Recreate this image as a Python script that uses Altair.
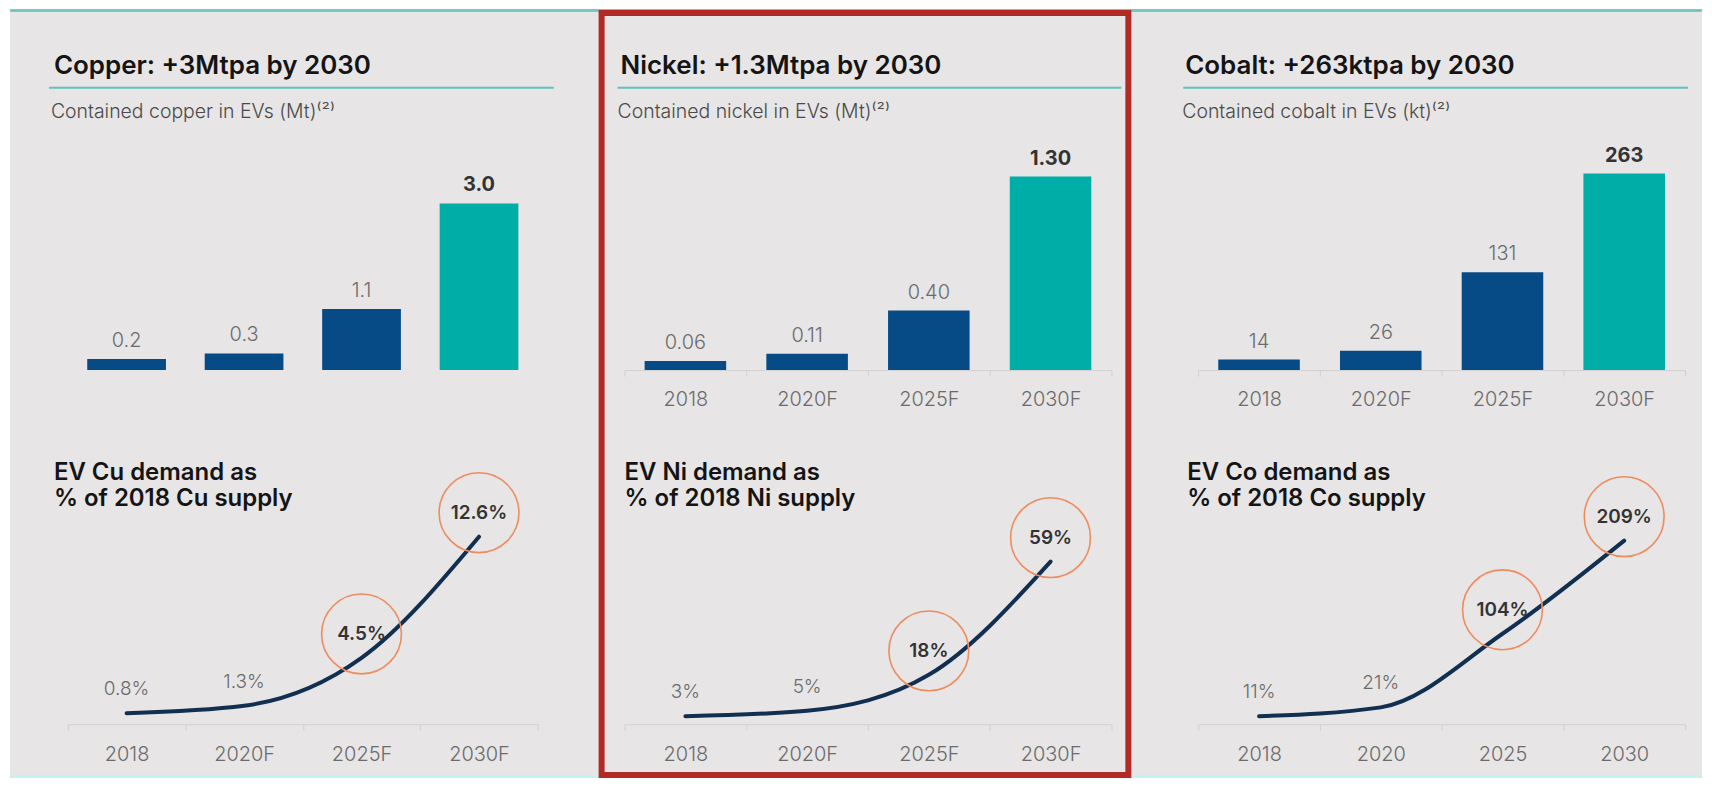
import altair as alt
import pandas as pd

FONT = "Inter"
BLUE = "#064b86"
TEAL = "#00aea8"
NAVY = "#112f50"
ORANGE = "#ee8c5e"
GRAY_TXT = "#6b6b6b"
DARK_TXT = "#333333"
BG = "#e7e5e5"
RED = "#b22a26"
UL = "#62c0bf"
AX = "#d2d0d0"

# ---------------- data ----------------
years = ["2018", "2020F", "2025F", "2030F"]
years_co_line = ["2018", "2020", "2025", "2030"]

cu_bar = [0.2, 0.3, 1.1, 3.0]
cu_bar_lbl = ["0.2", "0.3", "1.1", "3.0"]
ni_bar = [0.06, 0.11, 0.40, 1.30]
ni_bar_lbl = ["0.06", "0.11", "0.40", "1.30"]
co_bar = [14, 26, 131, 263]
co_bar_lbl = ["14", "26", "131", "263"]

cu_pct = [0.8, 1.3, 4.5, 12.6]
cu_pct_lbl = ["0.8%", "1.3%", "4.5%", "12.6%"]
ni_pct = [3, 5, 18, 59]
ni_pct_lbl = ["3%", "5%", "18%", "59%"]
co_pct = [11, 21, 104, 209]
co_pct_lbl = ["11%", "21%", "104%", "209%"]

titles = ["Copper: +3Mtpa by 2030", "Nickel: +1.3Mtpa by 2030", "Cobalt: +263ktpa by 2030"]
subtitles = ["Contained copper in EVs (Mt)\u207d\u00b2\u207e",
             "Contained nickel in EVs (Mt)\u207d\u00b2\u207e",
             "Contained cobalt in EVs (kt)\u207d\u00b2\u207e"]
line_titles = [["EV Cu demand as", "% of 2018 Cu supply"],
               ["EV Ni demand as", "% of 2018 Ni supply"],
               ["EV Co demand as", "% of 2018 Co supply"]]

# ---------------- layout ----------------
BAR_H = 200
LINE_H = 200
WIDTHS = [471, 488, 488]


def axis_cfg():
    return alt.Axis(title=None, labelFont=FONT, labelFontSize=20, labelColor=GRAY_TXT,
                    labelFontWeight=300, labelAngle=0, labelPadding=14, tickBand="extent",
                    tickSize=6, tickColor=AX, domainColor=AX, domainWidth=1, grid=False)


def one(t):
    return alt.Chart(pd.DataFrame({"t": [t]}))


def panel(cats_bar, bar_vals, bar_lbls, bar_max, cats_line, line_vals, line_lbls, line_dom,
          width, title, subtitle, ltitle, title_dx, ul, ltitle_dx, pre=None, post=None):
    emph_b = ["hi" if i == len(cats_bar) - 1 else "base" for i in range(len(cats_bar))]
    bdf = pd.DataFrame({"cat": cats_bar, "v": bar_vals, "lbl": bar_lbls, "hi": emph_b})
    xb = alt.X("cat:N", sort=cats_bar, scale=alt.Scale(type="band", paddingInner=0, paddingOuter=0),
               axis=axis_cfg())
    yb = alt.Y("v:Q", scale=alt.Scale(domain=[0, bar_max], nice=False, zero=True), axis=None)
    base = alt.Chart(bdf).encode(x=xb, y=yb)
    bars = base.mark_bar(width={"band": 0.67}).encode(
        color=alt.Color("hi:N", scale=alt.Scale(domain=["base", "hi"], range=[BLUE, TEAL]), legend=None))
    blbl = base.transform_filter(alt.datum.hi == "base").mark_text(
        font=FONT, fontSize=20, fontWeight=300, color=GRAY_TXT, baseline="alphabetic", dy=-12
    ).encode(text="lbl:N")
    blbl2 = base.transform_filter(alt.datum.hi == "hi").mark_text(
        font=FONT, fontSize=20, fontWeight=700, color=DARK_TXT, baseline="alphabetic", dy=-12
    ).encode(text="lbl:N")

    t1 = one(title).mark_text(font=FONT, fontSize=26, fontWeight=600, color="#141414",
                              align="left", baseline="alphabetic").encode(
        text="t:N", x=alt.value(title_dx), y=alt.value(-97))
    u1 = one(title).mark_rule(color=UL, strokeWidth=2).encode(
        x=alt.value(ul[0]), x2=alt.value(ul[1]), y=alt.value(-83))
    s1 = one(subtitle).mark_text(font=FONT, fontSize=19.5, fontWeight=300, color="#4a4a4a",
                                 align="left", baseline="alphabetic").encode(
        text="t:N", x=alt.value(title_dx - 3), y=alt.value(-53))

    layers = []
    if pre is not None:
        layers += pre
    layers += [bars, blbl, blbl2, t1, u1, s1]
    if post is not None:
        layers += post
    top = alt.layer(*layers).properties(width=width, height=BAR_H)

    emph_l = ["hi" if i >= len(cats_line) - 2 else "base" for i in range(len(cats_line))]
    ldf = pd.DataFrame({"cat": cats_line, "v": line_vals, "lbl": line_lbls, "hi": emph_l})
    xl = alt.X("cat:N", sort=cats_line, scale=alt.Scale(type="band", paddingInner=0, paddingOuter=0),
               axis=axis_cfg())
    yl = alt.Y("v:Q", scale=alt.Scale(domain=line_dom, nice=False, zero=False), axis=None)
    lbase = alt.Chart(ldf).encode(x=xl, y=yl)
    line = lbase.mark_line(interpolate="monotone", strokeWidth=4, color=NAVY, strokeCap="round")
    llbl = lbase.transform_filter(alt.datum.hi == "base").mark_text(
        font=FONT, fontSize=19, fontWeight=300, color=GRAY_TXT, baseline="middle", dy=-24
    ).encode(text="lbl:N")
    llbl2 = lbase.transform_filter(alt.datum.hi == "hi").mark_text(
        font=FONT, fontSize=19, fontWeight=600, color=DARK_TXT, baseline="middle", dy=-24
    ).encode(text="lbl:N")
    circ = lbase.transform_filter(alt.datum.hi == "hi").mark_point(
        shape="circle", size=6400, filled=False, stroke=ORANGE, strokeWidth=1.6, yOffset=-24, opacity=1)
    lt1 = one(ltitle[0]).mark_text(font=FONT, fontSize=24, fontWeight=600, color="#141414",
                                   align="left", baseline="alphabetic").encode(
        text="t:N", x=alt.value(ltitle_dx), y=alt.value(-45))
    lt2 = one(ltitle[1]).mark_text(font=FONT, fontSize=24, fontWeight=600, color="#141414",
                                   align="left", baseline="alphabetic").encode(
        text="t:N", x=alt.value(ltitle_dx), y=alt.value(-19))
    bottom = alt.layer(line, circ, llbl, llbl2, lt1, lt2).properties(width=width, height=LINE_H)

    return top, bottom


# decorations (page frame), relative to the copper bar view origin (66,170)
bg = one("bg").mark_rect(color=BG).encode(
    x=alt.value(-58), x2=alt.value(1638), y=alt.value(-162), y2=alt.value(609))
topline = one("tl").mark_rule(color="#74c8c5", strokeWidth=3).encode(
    x=alt.value(-58), x2=alt.value(1638), y=alt.value(-160.5))
botline = one("bl").mark_rule(color="#c6f1f1", strokeWidth=3).encode(
    x=alt.value(-58), x2=alt.value(1638), y=alt.value(607.5))
# red highlight box, relative to the nickel bar view origin (624,170)
redbox = one("rb").mark_rect(fillOpacity=0, stroke=RED, strokeWidth=6).encode(
    x=alt.value(-23), x2=alt.value(505), y=alt.value(-158), y2=alt.value(606))

cu_top, cu_bot = panel(years, cu_bar, cu_bar_lbl, 3.593, years, cu_pct, cu_pct_lbl, [0.067, 13.4],
                       WIDTHS[0], titles[0], subtitles[0], line_titles[0], -14, (-19, 487), -14,
                       pre=[bg, topline, botline])
ni_top, ni_bot = panel(years, ni_bar, ni_bar_lbl, 1.340, years, ni_pct, ni_pct_lbl, [0.11, 72.36],
                       WIDTHS[1], titles[1], subtitles[1], line_titles[1], -4, (-7, 498), 0,
                       post=[redbox])
co_top, co_bot = panel(years, co_bar, co_bar_lbl, 267.0, years_co_line, co_pct, co_pct_lbl, [2.0, 227.0],
                       WIDTHS[2], titles[2], subtitles[2], line_titles[2], -13, (-15, 491), -11)

chart = alt.concat(cu_top, ni_top, co_top, cu_bot, ni_bot, co_bot, columns=3,
                   spacing={"row": 155, "column": 87}, bounds="flush", align="each").properties(
    padding=0, background="white"
).configure_view(stroke=None)

chart.save("out.html", embed_options={"renderer": "svg", "actions": False})
